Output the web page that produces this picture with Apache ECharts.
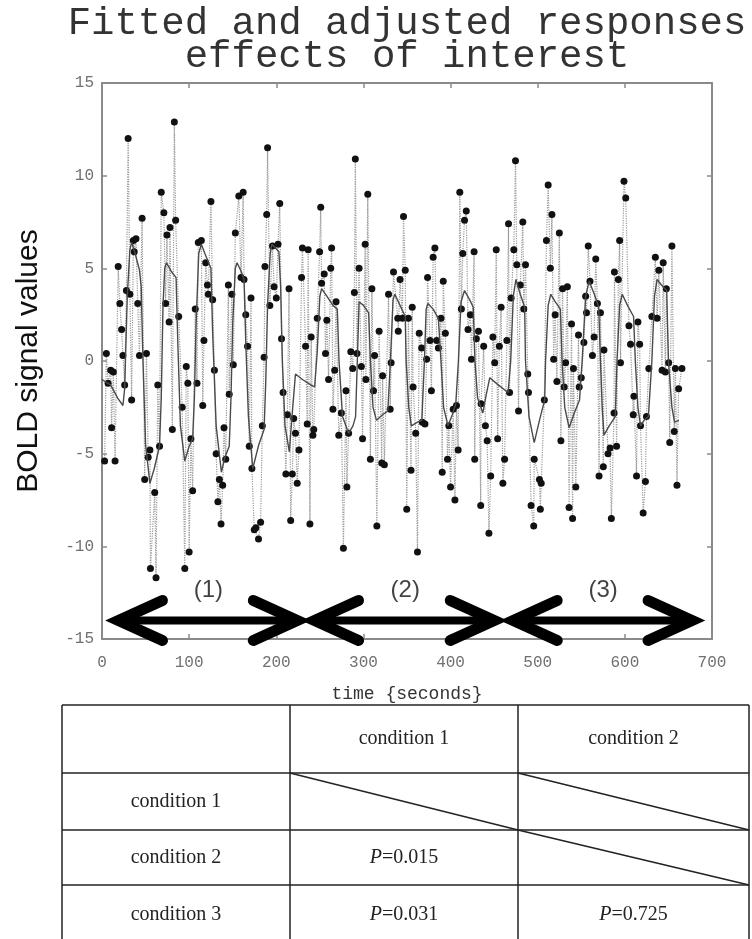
<!DOCTYPE html>
<html>
<head>
<meta charset="utf-8">
<script src="https://cdn.jsdelivr.net/npm/echarts@6/dist/echarts.min.js"></script>
<style>
html,body{margin:0;padding:0;background:#fff;}
#chart{width:752px;height:939px;}
</style>
</head>
<body>
<div id="chart"></div>
<script>
// ---------- data ----------
const titleLines = ['Fitted and adjusted responses', 'effects of interest'];
const xTicks = [0, 100, 200, 300, 400, 500, 600, 700];
const yTicks = [-15, -10, -5, 0, 5, 10, 15];

// adjusted (observed) responses: time (s) and BOLD value
const obsT = [3,5,7,10,11,13,15,18.6,20.5,22.5,24,26,28,30,32,34,36,37,39,41,43,46,49,51,53,55,55.6,60.5,62,64,66,68,71,73,74.5,77,78,80.7,83,84.5,88,92,95,96.7,98.5,100,102,104,107,109,110.5,114,115.6,117,119,121,122,125,127,129,131,133,134.7,136.6,138.5,140,142,145,146,149,150.7,153,157,159.5,162,163,165,167,169,171,172,174.7,176.6,179.6,182,184,186,187,189,190,192.6,195.6,197.5,200,202,204,206,207.8,211,212.7,214.6,216.5,218.4,220,222,224,226,
229,230,233.6,235.5,236.6,238.6,240,242,243,247,249.7,251,252,255,256.5,258,260,262.5,263.5,265,267,268.6,271.7,274.7,277,280,281,283,285.5,287.7,289.6,290.7,292.6,295,297.6,299,302,302.8,305,308,309.7,311.6,312.8,315.4,318,321,322,324,328.8,330.7,331.8,334.5,339.4,340,342,344.7,346,348,349.7,351.6,354.6,356,357,360,362,364,366.8,367.6,370.6,372.5,373.6,376.4,378,380,382,384,386,389,390.4,391.6,394,396.5,398,400,403,405,406.8,408.7,410.6,412.4,414,416,418,420,422.7,424,427,427.7,429.6,432,434.6,435,438,440,442,444,446,448.6,450.6,
452.4,454,456,458,460,462,464.6,466.5,467.7,469.5,472.6,474.5,476,478,480,482.9,484,486,488.6,489.4,492.4,495.4,496,502,503,504,507.6,510,512,514.5,516.3,518.3,520,522,524.8,526.6,528.5,530.4,532,534,536,538.8,540,541,543.7,546.8,547.6,550,553,555,556,558,560,562.8,564.7,566.6,568.5,570.4,572,575.3,576,580.7,583,584.5,587.6,588,590.5,592.5,594,595,599,601,604.7,606.5,609.6,610.4,613.4,615,617,618,621,623.6,624.8,627.5,631,635,637,639,642.7,644,646.5,647.6,650.3,651.5,654,656.7,658,659.8,661.7,665.5];
const obsV = [-5.4,0.4,-1.2,-0.5,-3.6,-0.6,-5.4,5.1,3.1,1.7,0.3,-1.3,3.8,12.0,3.6,-2.1,6.5,5.9,6.6,3.1,0.3,7.7,-6.4,0.4,-5.2,-4.8,-11.2,-7.1,-11.7,-1.3,-4.6,9.1,8.0,3.1,6.8,2.1,7.2,-3.7,12.9,7.6,2.4,-2.5,-11.2,-0.3,-1.2,-10.3,-4.2,-7.0,2.8,-1.2,6.4,6.5,-2.4,1.1,5.3,4.1,3.6,8.6,3.3,-0.5,-5.0,-7.6,-6.4,-8.8,-6.7,-3.6,-5.3,4.1,-1.8,3.6,-0.2,6.9,8.9,4.5,9.1,4.4,2.5,0.8,-4.6,3.4,-5.8,-9.1,-9.0,-9.6,-8.7,-3.5,0.2,5.1,7.9,11.5,3.0,6.2,4.0,3.4,6.3,8.5,1.2,-1.7,-6.1,-2.9,3.9,-8.6,-6.1,-3.1,-3.9,-6.6,-4.8,
4.5,6.1,0.8,-3.4,6.0,-8.8,1.3,-4.0,-3.7,2.3,5.9,8.3,4.2,4.7,0.4,2.2,-1.0,5.0,6.1,-2.6,-0.5,3.2,-4.0,-2.8,-10.1,-1.6,-6.8,-3.9,0.5,-0.4,3.7,10.9,0.4,5.0,-0.3,-4.2,6.3,-1.0,9.0,-5.3,3.9,-1.6,0.3,-8.9,1.6,-5.5,-0.8,-5.6,3.6,-2.6,-0.1,4.8,2.3,1.6,4.4,2.3,7.8,4.9,-8.0,2.3,-5.9,2.9,-1.4,-3.9,-10.3,1.5,0.7,-3.3,-3.4,0.1,4.5,1.1,-1.6,5.6,6.1,1.1,0.7,2.3,-6.0,4.3,1.5,-5.3,-3.5,-6.8,-2.6,-7.5,-2.4,-4.8,9.1,2.8,5.8,7.6,8.1,1.7,2.5,0.1,5.9,-5.3,1.2,1.6,-7.8,-2.3,0.8,-3.5,-4.3,-9.3,-6.2,1.3,-0.1,
6.0,-4.2,0.8,2.9,-6.6,-5.3,1.1,7.4,-1.7,3.4,6.0,10.8,5.2,-2.7,4.1,7.5,2.8,5.2,-0.7,-1.7,-7.8,-8.9,-5.3,-6.4,-8.0,-6.6,-2.1,6.5,9.5,5.0,7.9,0.1,2.5,-1.1,6.9,-4.3,3.9,-1.4,-0.1,4.0,-7.9,2.0,-8.5,-0.4,-6.8,1.4,-1.4,-0.9,1.0,3.5,2.6,6.2,4.3,0.3,1.3,5.5,3.1,-6.2,2.6,-5.7,0.6,-5.0,-4.7,-8.5,-2.8,4.8,-4.6,4.4,6.5,-0.1,9.7,8.8,1.9,0.9,-2.9,-1.9,-6.2,2.1,0.9,-3.5,-8.2,-6.5,-3.0,-0.4,2.4,5.6,2.3,4.9,-0.5,5.3,-0.6,3.9,-0.1,-4.4,6.2,-3.8,-0.4,-6.7,-1.5,-0.4];

// fitted response
const fitT = [0,10,18,24,26,29,32,34,38,43,45,47,50,55,60,66,68,70,72,74,80,85,87,90,95,100,104,106,108,111,114,118,125,127,131,137,141,146,148,150,153,155,160,163,165,168,173,180,186,188,190,193,195,199,203,205,207,210,215,218,222,230,240,244,247,250,252,258,265,270,272,276,283,288,291,293,295,300,306,308,311,315,322,328,331,334,336,342,348,349,352,355,362,367,370,372,374,380,386,389,392,397,402,406,409,412,416,422,426,428,431,437,441,445,455,466,469,472,475,480,485,486,490,496,502,508,509,512,515,520,526,528,531,536,542,548,551,555,559,565,570,572,574,576,582,589,591,594,597,603,610,612,615,618,622,627,631,634,637,642,648,650,654,657,662];
const fitV = [-1.0,-1.3,-2.0,-2.4,-1.5,3.5,6.0,6.4,5.8,4.9,4.0,0,-4.5,-6.6,-5.8,-4.6,-2,3,5.0,5.3,4.8,4.5,1,-3.5,-5.4,-4.6,-4.2,-2,2,5.8,6.3,5.8,5.0,1.5,-3.5,-6.0,-5.2,-4.6,-2,2,5.0,5.3,4.8,4.4,1,-3,-5.8,-4.5,-3.7,-1,3,5.8,6.3,6.1,5.9,4,0,-3.5,-4.9,-3,-0.7,-1.0,-1.3,-1.4,0.5,3.5,3.9,3.5,3.0,2.8,0,-3,-3.9,-3.5,-3.0,0,3.2,3.0,2.6,0,-2.5,-3.2,-2.9,-2.7,0,3.3,3.6,3.0,2.4,0,-2.5,-3.5,-3.3,-3.2,0,2.8,3.1,2.8,2.3,0,-2.5,-3.5,-2.9,-2.3,0,3.2,3.8,3.3,2.9,0,-2,-2.8,-1.8,-0.9,-1.3,-1.7,0,3.5,4.4,3.6,2.9,0,-3,-4.4,-3.2,-2.1,0,3,3.6,3.2,2.8,0,-2.5,-3.6,-2.8,-2.1,0,3.5,4.3,3.6,2.9,0,-2.5,-4.0,-3.5,-3.0,0,3,3.6,3.0,2.4,0,-2.5,-3.5,-3.2,-3.0,0,3.5,4.4,4.1,3.8,0,-2.5,-3.3,-3.2];

// session arrows
const arrowStart = [12, 237, 465];
const arrowEnd = [231, 457, 684];
const arrowLevel = -14.0;
const arrowLabels = ['(1)', '(2)', '(3)'];
const arrowLabelT = [122, 348, 575];
const arrowLabelLevel = -12.4;

// table
const tableColHeads = ['', 'condition 1', 'condition 2'];
const tableRowHeads = ['condition 1', 'condition 2', 'condition 3'];
const pValues = [[null, null], ['0.015', null], ['0.031', '0.725']];

// ---------- chart ----------
const chart = echarts.init(document.getElementById('chart'));
const mono = 'Liberation Mono';
const tickLabel = {color: '#707070', fontFamily: mono, fontSize: 16};
const axisLine = {show: true, onZero: false, lineStyle: {color: '#8a8a8a', width: 2}};
const axisTick = {show: true, inside: true, length: 5, lineStyle: {color: '#8a8a8a', width: 1.5}};

const obsData = obsT.map((t, i) => [t, obsV[i]]);
const fitData = fitT.map((t, i) => [t, fitV[i]]);
const arrowData = arrowStart.map((s, i) => [s, arrowEnd[i], arrowLevel]);
const labelData = arrowLabelT.map((t, i) => ({value: [t, arrowLabelLevel], name: arrowLabels[i]}));

// table graphics
const colX = [62, 290, 518, 749];
const rowY = [705, 773, 830, 885, 945];
const tableEls = [];
const lineStyle = {stroke: '#222', lineWidth: 1.5};
rowY.forEach(y => tableEls.push({type: 'line', shape: {x1: colX[0], y1: y, x2: colX[3], y2: y}, style: lineStyle}));
colX.forEach(x => tableEls.push({type: 'line', shape: {x1: x, y1: rowY[0], x2: x, y2: rowY[4]}, style: lineStyle}));
const serif = 'Liberation Serif';
tableColHeads.forEach((h, c) => {
  if (!h) return;
  tableEls.push({type: 'text', x: (colX[c] + colX[c + 1]) / 2, y: (rowY[0] + rowY[1]) / 2,
    style: {text: h, font: '20px "' + serif + '"', fill: '#222', align: 'center', verticalAlign: 'middle'}});
});
tableRowHeads.forEach((h, r) => {
  tableEls.push({type: 'text', x: (colX[0] + colX[1]) / 2, y: (rowY[r + 1] + rowY[r + 2]) / 2,
    style: {text: h, font: '20px "' + serif + '"', fill: '#222', align: 'center', verticalAlign: 'middle'}});
  pValues[r].forEach((p, c) => {
    const x1 = colX[c + 1], x2 = colX[c + 2], y1 = rowY[r + 1], y2 = rowY[r + 2];
    if (p === null) {
      tableEls.push({type: 'line', shape: {x1: x1, y1: y1, x2: x2, y2: y2}, style: {stroke: '#222', lineWidth: 1.5}});
    } else {
      tableEls.push({type: 'text', x: (x1 + x2) / 2, y: (y1 + y2) / 2,
        style: {text: '{i|P}=' + p, font: '20px "' + serif + '"', fill: '#222', align: 'center', verticalAlign: 'middle',
          rich: {i: {fontStyle: 'italic', fontFamily: serif, fontSize: 20, fill: '#222'}}}});
    }
  });
});

chart.setOption({
  animation: false,
  backgroundColor: '#fff',
  title: {
    text: titleLines.join('\n'),
    left: 402, top: 2, textAlign: 'center',
    textStyle: {fontFamily: mono, fontSize: 39, fontWeight: 'normal', color: '#333', lineHeight: 33}
  },
  grid: {left: 102, right: 40, top: 83, bottom: 300},
  xAxis: [{
    type: 'value', min: 0, max: 700, interval: 100,
    axisLine: axisLine, axisTick: axisTick, splitLine: {show: false},
    axisLabel: Object.assign({margin: 16}, tickLabel),
    name: 'time {seconds}', nameLocation: 'middle', nameGap: 46,
    nameTextStyle: {fontFamily: mono, fontSize: 18, color: '#333'}
  }, {
    type: 'value', min: 0, max: 700, interval: 100, position: 'top',
    axisLine: axisLine, axisTick: axisTick, axisLabel: {show: false}, splitLine: {show: false}
  }],
  yAxis: [{
    type: 'value', min: -15, max: 15, interval: 5,
    axisLine: axisLine, axisTick: axisTick, splitLine: {show: false},
    axisLabel: Object.assign({margin: 8}, tickLabel),
    name: 'BOLD signal values', nameLocation: 'middle', nameGap: 58,
    nameTextStyle: {fontFamily: 'Liberation Sans', fontSize: 30, color: '#111'}
  }, {
    type: 'value', min: -15, max: 15, interval: 5, position: 'right',
    axisLine: axisLine, axisTick: axisTick, axisLabel: {show: false}, splitLine: {show: false}
  }],
  series: [{
    type: 'line', data: obsData, xAxisIndex: 0, yAxisIndex: 0,
    symbol: 'circle', symbolSize: 7, showSymbol: true,
    lineStyle: {type: 'dotted', color: '#999', width: 1.2},
    itemStyle: {color: '#111'}, z: 3
  }, {
    type: 'line', data: fitData, symbol: 'none',
    lineStyle: {color: '#4a4a4a', width: 1.4}, z: 4
  }, {
    type: 'custom', data: arrowData, z: 5,
    renderItem: function (params, api) {
      const p0 = api.coord([api.value(0), api.value(2)]);
      const p1 = api.coord([api.value(1), api.value(2)]);
      const ax = 44, ay = 20;
      const st = {stroke: '#000', lineWidth: 11, lineCap: 'round', lineJoin: 'miter', fill: null};
      return {type: 'group', children: [
        {type: 'line', shape: {x1: p0[0] + 6, y1: p0[1], x2: p1[0] - 6, y2: p1[1]}, style: {stroke: '#000', lineWidth: 8}},
        {type: 'polyline', shape: {points: [[p0[0] + 6 + ax, p0[1] - ay], [p0[0] + 6, p0[1]], [p0[0] + 6 + ax, p0[1] + ay]]}, style: st},
        {type: 'polyline', shape: {points: [[p1[0] - 6 - ax, p1[1] - ay], [p1[0] - 6, p1[1]], [p1[0] - 6 - ax, p1[1] + ay]]}, style: st}
      ]};
    }
  }, {
    type: 'scatter', data: labelData, symbolSize: 0, z: 6,
    label: {show: true, position: 'inside', formatter: '{b}', fontFamily: 'Liberation Sans', fontSize: 24, color: '#111'}
  }],
  graphic: tableEls
});
</script>
</body>
</html>
